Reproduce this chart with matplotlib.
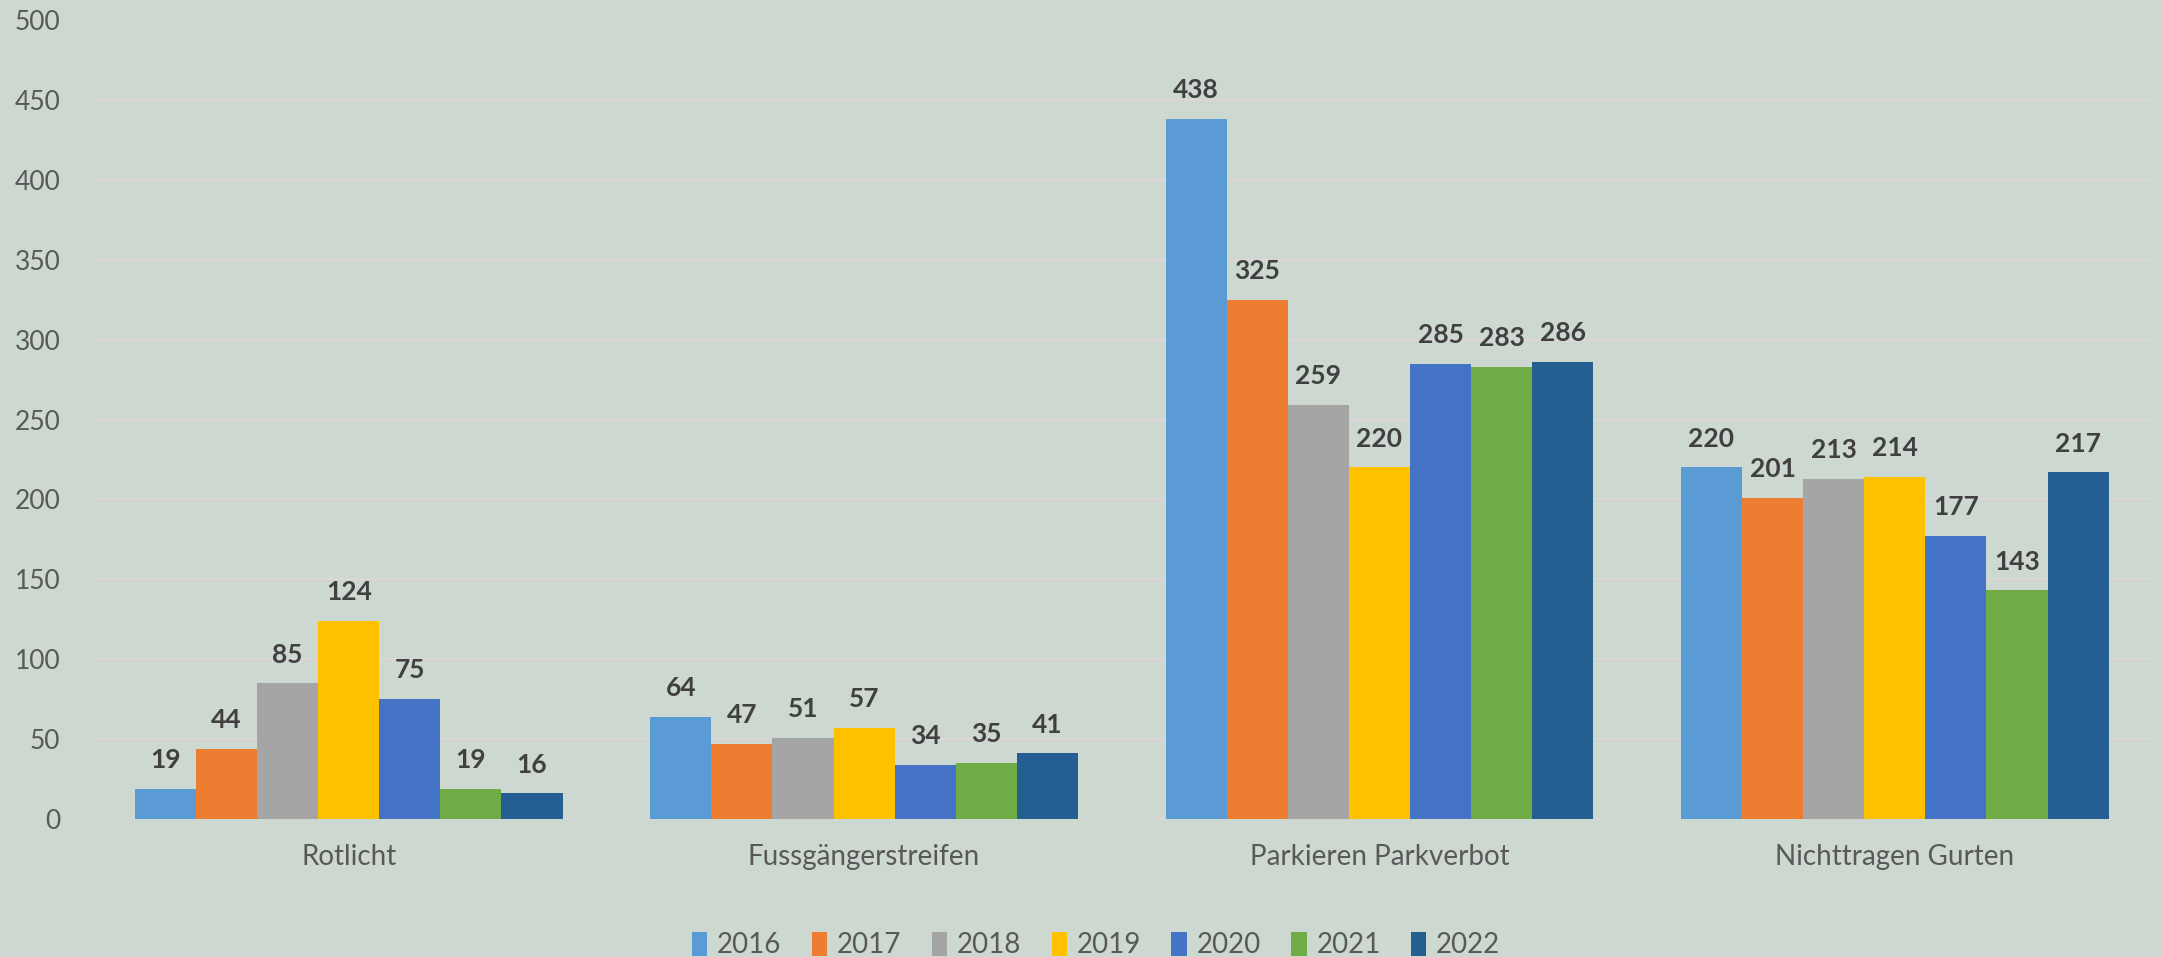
import matplotlib
matplotlib.use("Agg")
import matplotlib.pyplot as plt
import numpy as np

categories = ["Rotlicht", "Fussgängerstreifen", "Parkieren Parkverbot", "Nichttragen Gurten"]
years = ["2016", "2017", "2018", "2019", "2020", "2021", "2022"]
v2016 = [19, 64, 438, 220]
v2017 = [44, 47, 325, 201]
v2018 = [85, 51, 259, 213]
v2019 = [124, 57, 220, 214]
v2020 = [75, 34, 285, 177]
v2021 = [19, 35, 283, 143]
v2022 = [16, 41, 286, 217]
series = [v2016, v2017, v2018, v2019, v2020, v2021, v2022]
colors = ["#5B9BD5", "#ED7D31", "#A5A5A5", "#FFC000", "#4472C4", "#70AD47", "#255E91"]
yticks = [0, 50, 100, 150, 200, 250, 300, 350, 400, 450, 500]

plt.rcParams['font.family'] = ['Lato', 'DejaVu Sans']
bg = "#cdd8d0"
fig = plt.figure(figsize=(21.62, 9.57), dpi=100, facecolor=bg)
ax = fig.add_axes([0.0421, 0.1442, 0.9535, 0.8349])
ax.set_facecolor(bg)

n = len(series)
group_w = 0.83
bw = group_w / n
x = np.arange(len(categories))
for i, (vals, c, yr) in enumerate(zip(series, colors, years)):
    pos = x - group_w / 2 + bw * (i + 0.5)
    bars = ax.bar(pos, vals, width=bw, color=c, label=yr, zorder=3)
    for b, v in zip(bars, vals):
        ax.annotate(str(v), (b.get_x() + b.get_width() / 2, v), xytext=(0, 12),
                    textcoords="offset points", ha="center", va="bottom",
                    fontsize=19, fontweight="bold", color="#404040", zorder=4)

ax.set_xlim(-0.5, len(categories) - 0.5)
ax.set_ylim(0, 500)
ax.set_yticks(yticks)
ax.set_yticklabels([str(t) for t in yticks], fontsize=19, color="#595959")
ax.set_xticks(x)
ax.set_xticklabels(categories, fontsize=20, color="#595959")
ax.tick_params(axis='y', length=0, pad=22)
ax.tick_params(axis='x', length=0, pad=18)
ax.grid(axis='y', color="#dcd6d8", linewidth=1.6, zorder=0)
for s in ax.spines.values():
    s.set_visible(False)

leg = fig.legend(loc="center", bbox_to_anchor=(1096 / 2162, 12 / 957), ncol=7, frameon=False,
                 fontsize=20, handlelength=0.55, handleheight=1.0, handletextpad=0.35,
                 columnspacing=1.1, labelcolor="#595959")

fig.savefig("out.png", dpi=100, facecolor=bg)
